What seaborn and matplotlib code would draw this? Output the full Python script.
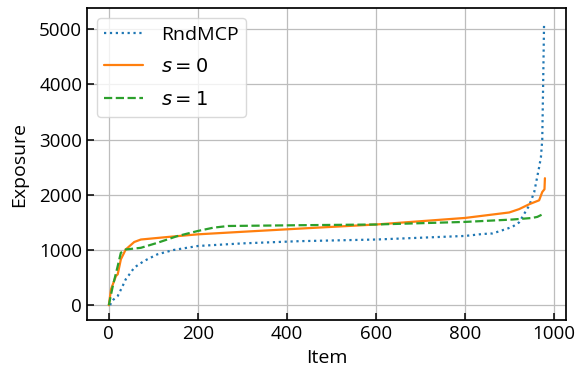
import matplotlib
matplotlib.use("Agg")
import matplotlib.pyplot as plt
import seaborn as sns
import pandas as pd

# RndMCP (sorted exposure per item)
rnd_x = [3, 5, 10, 20, 30, 38, 50, 57, 79, 109, 145, 200, 300, 427, 600, 800, 839, 861, 877, 899, 906, 921, 944, 955, 966, 970, 973, 975, 977]
rnd_y = [0, 50, 100, 168, 330, 470, 600, 682, 801, 922, 1000, 1073, 1120, 1160, 1190, 1255, 1290, 1300, 1340, 1400, 1420, 1500, 1810, 2050, 2500, 2680, 3000, 4000, 5070]

# s = 0
s0_x = [0, 5, 16, 20, 27, 38, 57, 72, 131, 200, 300, 427, 600, 800, 899, 921, 944, 966, 973, 978, 979]
s0_y = [0, 290, 530, 560, 830, 1010, 1145, 1190, 1235, 1284, 1330, 1387, 1462, 1581, 1680, 1740, 1830, 1900, 2050, 2100, 2300]

# s = 1
s1_x = [0, 9, 20, 27, 38, 72, 109, 153, 200, 235, 268, 427, 600, 800, 906, 950, 962, 972, 977]
s1_y = [0, 350, 710, 950, 1010, 1040, 1130, 1250, 1345, 1405, 1435, 1449, 1462, 1509, 1552, 1580, 1600, 1640, 1670]

labels = ["RndMCP", "$s = 0$", "$s = 1$"]
colors = ["#1f77b4", "#ff7f0e", "#2ca02c"]
styles = [":", "-", "--"]

sns.set_style("ticks")
plt.rcParams["font.family"] = ["Open Sans", "DejaVu Sans"]
plt.rcParams["xtick.direction"] = "in"
plt.rcParams["ytick.direction"] = "in"
plt.rcParams["text.color"] = "black"
plt.rcParams["axes.labelcolor"] = "black"
plt.rcParams["xtick.color"] = "black"
plt.rcParams["ytick.color"] = "black"

fig = plt.figure(figsize=(5.78, 3.68), dpi=100)
ax = fig.add_axes([0.1505, 0.130, 0.8285, 0.848])

series = [(rnd_x, rnd_y), (s0_x, s0_y), (s1_x, s1_y)]
for (xs, ys), lab, col, ls in zip(series, labels, colors, styles):
    df = pd.DataFrame({"Item": xs, "Exposure": ys})
    sns.lineplot(data=df, x="Item", y="Exposure", ax=ax, color=col, linestyle=ls,
                 linewidth=1.6, label=lab, estimator=None, sort=False)

ax.grid(True, color="#bdbdbd", linewidth=0.9)
ax.set_axisbelow(True)
for sp in ax.spines.values():
    sp.set_color("black")
    sp.set_linewidth(1.25)
ax.set_xticks([0, 200, 400, 600, 800, 1000])
ax.set_yticks([0, 1000, 2000, 3000, 4000, 5000])
ax.set_xlim(-49, 1026)
ax.set_ylim(-270, 5380)
ax.tick_params(axis="both", labelsize=13.5, length=5, width=1.1, color="black",
               labelcolor="black")
ax.set_xlabel("Item", fontsize=14, labelpad=4)
ax.set_ylabel("Exposure", fontsize=14, labelpad=8)
leg = ax.legend(loc="upper left", fontsize=14, frameon=True, framealpha=0.8,
                edgecolor="#d0d0d0", handlelength=2.0, handletextpad=0.9,
                labelspacing=0.75, borderaxespad=0.5)

fig.savefig("out.png", dpi=100)
